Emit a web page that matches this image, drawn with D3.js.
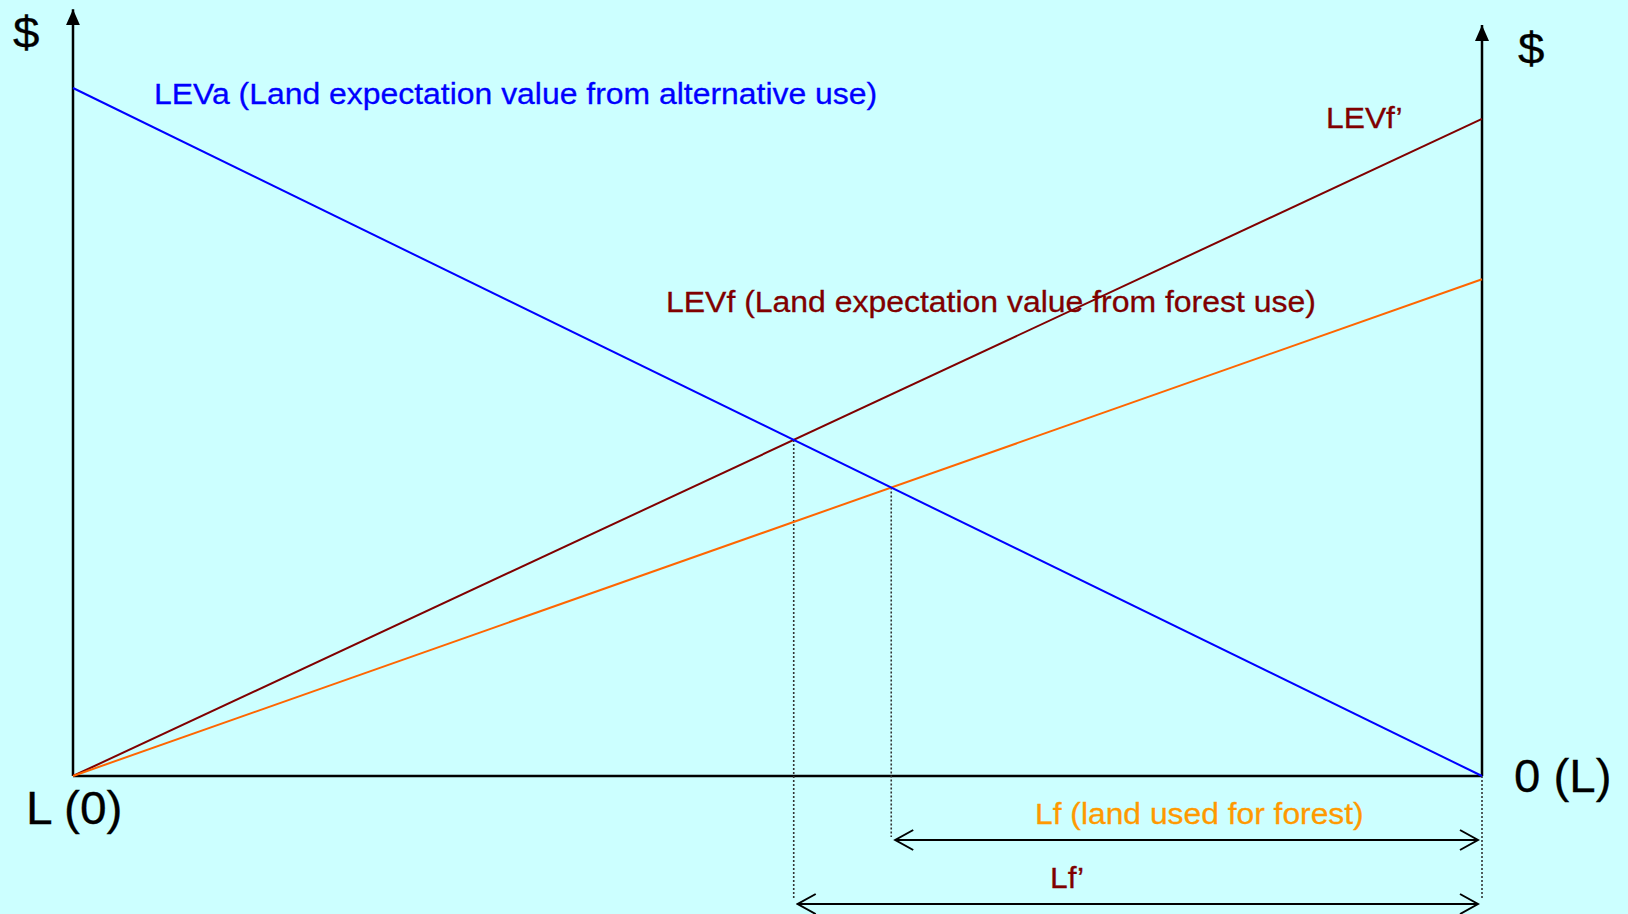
<!DOCTYPE html>
<html>
<head>
<meta charset="utf-8">
<script src="https://cdn.jsdelivr.net/npm/d3@7"></script>
<style>
  html, body { margin: 0; padding: 0; background: #ccffff; }
  svg { display: block; }
  text { font-family: "Liberation Sans", Arial, sans-serif; }
</style>
</head>
<body>
<svg id="chart" width="1628" height="914"></svg>
<script>
// land share from left (L) to right (0), 0..100
var landEnds = [0, 100];
// $ values at the two ends
var levA = [100, 0];          // alternative use
var levF = [0, 72.2];         // forest use
var levFPrime = [0, 95.5];    // forest use after the shift
// vertical axes reach a bit above the data
var axisTops = [111.6, 109.3];

var svg = d3.select("#chart"),
    margin = {left: 73, right: 146, top: 88, bottom: 138},
    W = +svg.attr("width"), H = +svg.attr("height");

var x = d3.scaleLinear().domain([0, 100]).range([margin.left, W - margin.right]);
var y = d3.scaleLinear().domain([0, 100]).range([H - margin.bottom, margin.top]);

// where two straight lines cross (in data units)
function cross(a, b) {
  var sa = (a[1] - a[0]) / (landEnds[1] - landEnds[0]),
      sb = (b[1] - b[0]) / (landEnds[1] - landEnds[0]);
  var lx = (b[0] - a[0]) / (sa - sb);
  return {x: lx, y: a[0] + sa * lx};
}

var defs = svg.append("defs");
defs.append("marker").attr("id", "tri")
  .attr("viewBox", "-16 -8 17 16").attr("refX", 0).attr("refY", 0)
  .attr("markerUnits", "userSpaceOnUse").attr("markerWidth", 17).attr("markerHeight", 16)
  .attr("orient", "auto")
  .append("path").attr("d", "M-16,-7L0,0L-16,7Z").attr("fill", "#000");
defs.append("marker").attr("id", "open")
  .attr("viewBox", "-20 -12 22 24").attr("refX", 0).attr("refY", 0)
  .attr("markerUnits", "userSpaceOnUse").attr("markerWidth", 22).attr("markerHeight", 24)
  .attr("orient", "auto-start-reverse")
  .append("path").attr("d", "M-18,-10L0,0L-18,10").attr("fill", "none")
  .attr("stroke", "#000").attr("stroke-width", 2);

var g = svg.append("g");

// axes
g.append("line").attr("x1", x(0)).attr("x2", x(100)).attr("y1", y(0)).attr("y2", y(0))
  .attr("stroke", "#000").attr("stroke-width", 2.5);
[0, 1].forEach(function(i) {
  g.append("line").attr("x1", x(landEnds[i])).attr("x2", x(landEnds[i]))
    .attr("y1", y(0)).attr("y2", y(axisTops[i]) + 1)
    .attr("stroke", "#000").attr("stroke-width", 2.5)
    .attr("marker-end", "url(#tri)");
});

var line = d3.line().x(function(d) { return x(d[0]); }).y(function(d) { return y(d[1]); });
function series(vals) { return landEnds.map(function(l, i) { return [l, vals[i]]; }); }

var p1 = cross(levA, levFPrime), p2 = cross(levA, levF);
var arrowY = [y(0) + 64, y(0) + 128];

// dotted guides
var dots = [[x(p1.x), y(p1.y), arrowY[1] - 4], [x(p2.x), y(p2.y), arrowY[0] - 3], [x(100), y(0), arrowY[1] - 4]];
g.selectAll(".guide").data(dots).enter().append("line").attr("class", "guide")
  .attr("x1", function(d) { return d[0]; }).attr("x2", function(d) { return d[0]; })
  .attr("y1", function(d) { return d[1]; }).attr("y2", function(d) { return d[2]; })
  .attr("stroke", "#333").attr("stroke-width", 1.6).attr("stroke-dasharray", "2,2");

g.append("path").datum(series(levFPrime)).attr("d", line).attr("fill", "none")
  .attr("stroke", "#800000").attr("stroke-width", 2);
g.append("path").datum(series(levF)).attr("d", line).attr("fill", "none")
  .attr("stroke", "#ff6600").attr("stroke-width", 2);
g.append("path").datum(series(levA)).attr("d", line).attr("fill", "none")
  .attr("stroke", "#0000ff").attr("stroke-width", 2);

// dimension arrows
[[p2.x, arrowY[0]], [p1.x, arrowY[1]]].forEach(function(d) {
  g.append("line").attr("x1", x(d[0]) + 4).attr("x2", x(100) - 4)
    .attr("y1", d[1]).attr("y2", d[1])
    .attr("stroke", "#000").attr("stroke-width", 2)
    .attr("marker-start", "url(#open)").attr("marker-end", "url(#open)");
});

// labels
function label(txt, px, py, size, color, sx) {
  g.append("text").attr("transform", "translate(" + px + "," + py + ") scale(" + (sx || 1) + ",1)")
    .attr("font-size", size).attr("fill", color)
    .attr("stroke", color).attr("stroke-width", 0.3).text(txt);
}
label("$", 13, 48, 44, "#000", 1.08);
label("$", 1518, 64, 44, "#000", 1.08);
label("L (0)", 26, 824, 46, "#000", 1.04);
label("0 (L)", 1514, 792, 46, "#000", 1.03);
label("LEVa (Land expectation value from alternative use)", 154, 104, 30, "#0000ff", 1.064);
label("LEVf (Land expectation value from forest use)", 666, 312, 30, "#800000", 1.065);
label("LEVf\u2019", 1326, 128, 30, "#800000", 1.06);
label("Lf (land used for forest)", 1035, 824, 30, "#ff9900", 1.06);
label("Lf\u2019", 1050, 888, 30, "#800000", 1.06);
</script>
</body>
</html>
